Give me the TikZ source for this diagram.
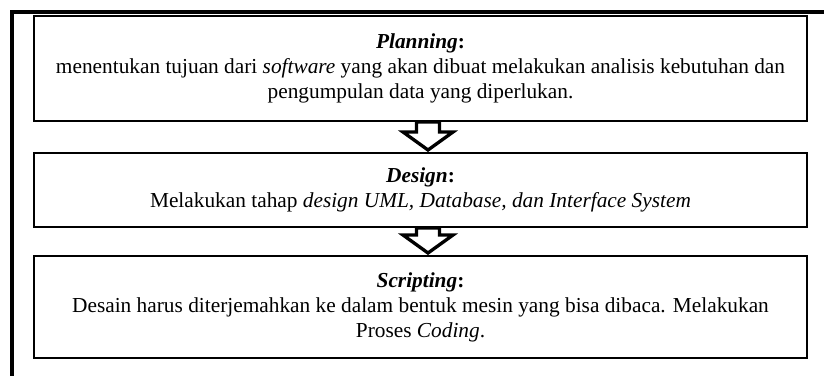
\documentclass[tikz,border=0pt]{standalone}
\usepackage{fontspec}
\setmainfont{Liberation Serif}
\usetikzlibrary{calc}
\tikzset{
  stagebox/.style={draw, line width=1.2pt, minimum width=463.8pt, align=center,
    font=\fontsize{12.8}{15}\selectfont},
  flowarrow/.style={draw, fill=white, line width=2pt, miter limit=4},
  frameline/.style={line width=2.4pt}
}
\begin{document}
\begin{tikzpicture}[x=0.6pt, y=-0.6pt]
        \useasboundingbox (0,0) rectangle (824,376);

        % Outer frame (left and top only)
        \draw[frameline] (11.5, 380) -- (11.5, 11.5) -- (830, 11.5);

        % Planning
        \node[stagebox, minimum height=63pt] (planning) at (420.5, 68.5)
          {\textbf{\textit{Planning}:}\\
           menentukan tujuan dari \textit{software} yang akan dibuat melakukan analisis kebutuhan dan\\
           pengumpulan data yang diperlukan.};

        % Design
        \node[stagebox, minimum height=44.4pt] (design) at (420.5, 190)
          {\textbf{\textit{Design}:}\\
           Melakukan tahap \textit{design UML, Database, dan Interface System}};

        % Scripting
        \node[stagebox, minimum height=61.2pt] (scripting) at (420.5, 307)
          {\textbf{\textit{Scripting}:}\\
           Desain harus diterjemahkan ke dalam bentuk mesin yang bisa dibaca. Melakukan\\
           Proses \textit{Coding}.};

        % Block arrows between stages
        \foreach \a/\b in {planning/design, design/scripting}{
          \coordinate (top) at ($(\a.south)+(7.5,0)$);
          \coordinate (tip) at ($(\b.north)+(7.5,-2)$);
          \coordinate (base) at ($(tip)+(0,-18)$);
          \draw[flowarrow] ($(top)+(-11.5,0)$) -- ($(top)+(11.5,0)$) -- ($(base)+(11.5,0)$)
            -- ($(base)+(25,0)$) -- (tip) -- ($(base)+(-25,0)$) -- ($(base)+(-11.5,0)$) -- cycle;
        }
\end{tikzpicture}
\end{document}
